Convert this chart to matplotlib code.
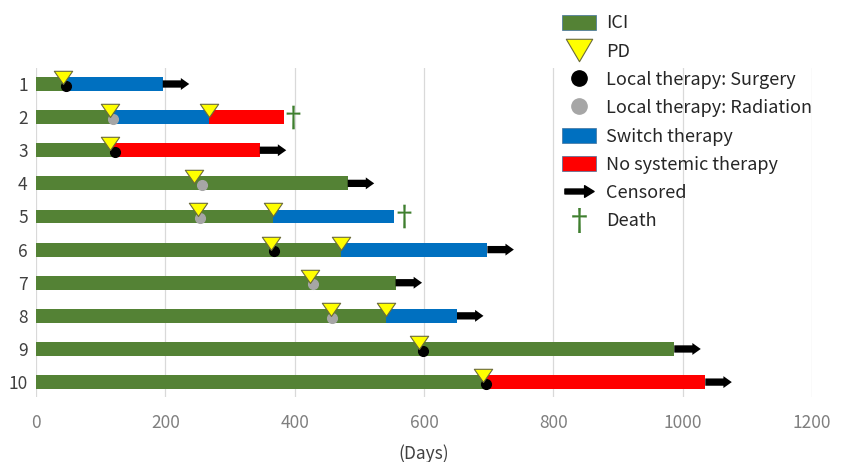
import matplotlib
matplotlib.use("Agg")
import matplotlib.pyplot as plt
from matplotlib.lines import Line2D
from matplotlib.patches import Patch, FancyArrow
from matplotlib.path import Path
import numpy as np

plt.rcParams['font.family'] = ['Noto Sans CJK JP', 'DejaVu Sans']
plt.rcParams['mathtext.fontset'] = 'custom'
plt.rcParams['mathtext.rm'] = 'Noto Sans CJK JP'
plt.rcParams['mathtext.it'] = 'Noto Sans CJK JP'
plt.rcParams['mathtext.bf'] = 'Noto Sans CJK JP'

# ---------------- data ----------------
patients = [1, 2, 3, 4, 5, 6, 7, 8, 9, 10]
ici_end = [42, 116, 117, 482, 366, 472, 556, 541, 987, 691]

switch_pat = [1, 2, 5, 6, 8]
switch_start = [42, 116, 366, 472, 541]
switch_end = [196, 267, 554, 698, 651]

nosys_pat = [2, 3, 10]
nosys_start = [267, 117, 691]
nosys_end = [383, 346, 1035]

pd_pat = [1, 2, 2, 3, 4, 5, 5, 6, 6, 7, 8, 8, 9, 10]
pd_day = [42, 114, 267, 114, 245, 250, 366, 363, 472, 424, 456, 541, 593, 691]

surg_pat = [1, 3, 6, 9, 10]
surg_day = [46, 122, 368, 599, 696]

rad_pat = [2, 4, 5, 7, 8]
rad_day = [119, 257, 253, 429, 458]

cens_pat = [1, 3, 4, 6, 7, 8, 9, 10]
cens_day = [196, 346, 482, 698, 556, 651, 987, 1035]

death_pat = [2, 5]
death_day = [383, 554]

xticks = [0, 200, 400, 600, 800, 1000, 1200]

# ---------------- style ----------------
GREEN = '#548235'
BLUE = '#0070C0'
RED = '#FF0000'
YELLOW = '#FFFF00'
GRAY = '#A6A6A6'
DAG = '#3F7F2F'
BAR_H = 0.42

fig = plt.figure(figsize=(8.46, 4.62), dpi=100)
ax = fig.add_axes([36/846, 1-397/462, (812-36)/846, (397-68)/462])

ax.barh(patients, ici_end, left=0, height=BAR_H, color=GREEN, zorder=2)
ax.barh(switch_pat, np.array(switch_end)-np.array(switch_start), left=switch_start,
        height=BAR_H, color=BLUE, zorder=2)
ax.barh(nosys_pat, np.array(nosys_end)-np.array(nosys_start), left=nosys_start,
        height=BAR_H, color=RED, zorder=2)

# local therapy dots
ax.plot(surg_day, np.array(surg_pat)+0.05, 'o', ms=7, color='black', mec='black', zorder=3)
ax.plot(rad_day, np.array(rad_pat)+0.05, 'o', ms=7, color=GRAY, mec=GRAY, zorder=3)

# PD triangles, tip at the bar centre (pointing down)
tri = Path([(-1, 1.44), (1, 1.44), (0, 0), (-1, 1.44)],
           [Path.MOVETO, Path.LINETO, Path.LINETO, Path.CLOSEPOLY])
ax.plot(pd_day, pd_pat, linestyle='none', marker=tri, ms=19, mfc=YELLOW,
        mec='#6b6b3a', mew=0.8, zorder=4)

# censored arrows
for p, d in zip(cens_pat, cens_day):
    ax.add_patch(FancyArrow(d, p, 41, 0, width=0.22, head_width=0.36,
                            head_length=13, length_includes_head=True,
                            color='black', lw=0, zorder=3))

# death daggers
ax.plot(np.array(death_day)+15, death_pat, linestyle='none', marker='$†$',
        ms=17, color=DAG, mew=0, zorder=3)

ax.set_xlim(0, 1200)
ax.set_ylim(10.45, 0.517)
ax.set_xticks(xticks)
ax.set_yticks(patients)
ax.set_yticklabels([str(p) for p in patients])
ax.tick_params(axis='x', length=0, pad=12, labelsize=12.5, labelcolor='#7F7F7F')
ax.tick_params(axis='y', length=0, pad=6, labelsize=12.5, labelcolor='#404040')
for s in ax.spines.values():
    s.set_visible(False)
ax.grid(axis='x', color='#D9D9D9', lw=0.9, zorder=0)
ax.set_axisbelow(True)
ax.set_xlabel('(Days)', fontsize=12.5, color='#404040', labelpad=9)

# legend
arrow_path = Path([(-1, 0.17), (0.35, 0.17), (0.35, 0.4), (1, 0), (0.35, -0.4),
                   (0.35, -0.17), (-1, -0.17), (-1, 0.17)],
                  [Path.MOVETO] + [Path.LINETO]*6 + [Path.CLOSEPOLY])
tri_leg = Path([(-1, 0.85), (1, 0.85), (0, -0.85), (-1, 0.85)],
               [Path.MOVETO, Path.LINETO, Path.LINETO, Path.CLOSEPOLY])
handles = [
    Patch(facecolor=GREEN, edgecolor='#41719C', lw=0.5),
    Line2D([], [], linestyle='none', marker=tri_leg, ms=19, mfc=YELLOW, mec='#6b6b3a', mew=0.8),
    Line2D([], [], linestyle='none', marker='o', ms=11, color='black'),
    Line2D([], [], linestyle='none', marker='o', ms=11, color=GRAY),
    Patch(facecolor=BLUE, edgecolor='#41719C', lw=0.5),
    Patch(facecolor=RED, edgecolor='#41719C', lw=0.5),
    Line2D([], [], linestyle='none', marker=arrow_path, ms=21, color='black'),
    Line2D([], [], linestyle='none', marker='$†$', ms=18, color=DAG, mew=0),
]
labels = ['ICI', 'PD', 'Local therapy: Surgery', 'Local therapy: Radiation',
          'Switch therapy', 'No systemic therapy', 'Censored', 'Death']
leg = fig.legend(handles, labels, loc='upper left', bbox_to_anchor=(548/846, 1.0),
                 frameon=False, fontsize=13, handlelength=1.85, handleheight=0.9,
                 handletextpad=0.55, labelspacing=0.57, borderpad=0.3,
                 labelcolor='#262626')

fig.savefig('out.png', dpi=100)
